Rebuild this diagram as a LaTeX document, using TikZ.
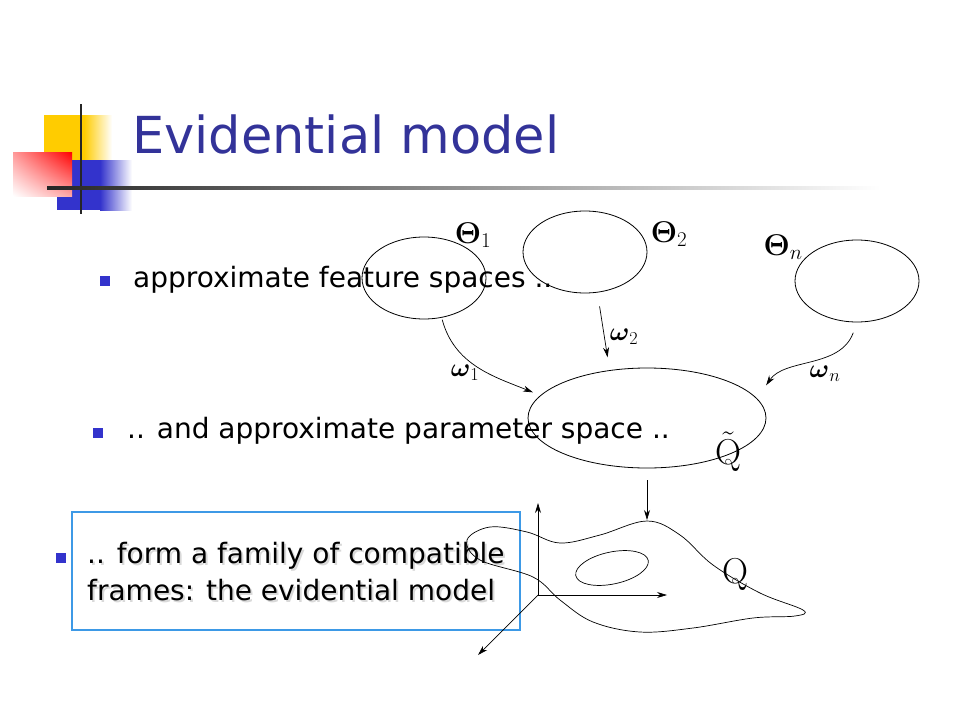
\RequirePackage{fix-cm}
\documentclass[tikz,border=0pt]{standalone}
\usepackage{amsmath}
\usepackage[no-math]{fontspec}
\setmainfont{DejaVu Sans}
\usepackage{tikz}
\usetikzlibrary{arrows.meta,positioning,shapes.geometric,calc,shadings}
\definecolor{titleblue}{HTML}{333399}
\definecolor{bulletblue}{HTML}{3333CC}
\definecolor{boxblue}{HTML}{3D99E6}
\definecolor{logoyellow}{HTML}{FFCC00}

\begin{document}
\begin{tikzpicture}[
    x=1pt, y=-1pt,
    space/.style={ellipse, draw, line width=0.8pt, inner sep=0pt, minimum width=124pt, minimum height=82pt},
    arrow/.style={-{Stealth[length=10pt,width=6pt]}, line width=0.7pt},
    lbl/.style={font=\fontsize{26}{30}\selectfont, inner sep=0pt},
    framelbl/.style={font=\fontsize{30}{34}\selectfont, inner sep=0pt},
    bigsym/.style={font=\fontsize{36}{40}\selectfont, inner sep=0pt},
    bullet/.style={fill=bulletblue, minimum size=10pt, inner sep=0pt},
    item/.style={font=\fontsize{28}{37}\selectfont, anchor=base west, inner sep=0pt}
]
\useasboundingbox (0,0) rectangle (960,720);

% Logo
\fill[logoyellow] (44,115) rectangle (84,160);
\shade[left color=logoyellow, right color=white] (84,115) rectangle (112,160);
\fill[bulletblue] (57,160) rectangle (100,210);
\shade[left color=bulletblue, right color=white] (100,160) rectangle (132,210);
\shade[upper left=red!40!white, upper right=red, lower left=white, lower right=red!35!white] (13,152) rectangle (72,196);
\draw[black!85, line width=2.5pt] (81,104) -- (81,214);
\shade[left color=black!85, right color=white] (47,186.5) rectangle (880,189.5);

% Title
\node[font=\fontsize{51}{60}\selectfont, text=titleblue, anchor=base west, inner sep=0pt] (title) at (132,153) {Evidential model};

% Bullets
\node[bullet] (b1) at (105,281) {};
\node[item] (t1) at (133,287) {approximate feature spaces ..};
\node[bullet] (b2) at (97.5,432.5) {};
\node[item] (t2) at (127,438) {.. and approximate parameter space ..};
\node[bullet] (b3) at (60.5,557.5) {};
\node[item, text=black!15] (t3s) at (89,565) {.. form a family of compatible};
\node[item, text=black!15] (t4s) at (89,602) {frames: the evidential model};
\node[item] (t3) at (87,563) {.. form a family of compatible};
\node[item] (t4) at (87,600) {frames: the evidential model};
\node[draw=boxblue, line width=2pt, minimum width=448pt, minimum height=118pt, inner sep=0pt] (frame) at (295.75,571) {};

% Feature spaces and parameter space
\node[space] (th1) at (424,278) {};
\node[space] (th2) at (585,252) {};
\node[space] (thn) at (857,281) {};
\node[space, minimum width=238pt, minimum height=100pt] (qt) at (647,418) {};

\node[framelbl] (l1) at (473,235) {$\mathbf{\Theta}_1$};
\node[framelbl] (l2) at (669,234) {$\mathbf{\Theta}_2$};
\node[framelbl] (ln) at (783,247) {$\mathbf{\Theta}_n$};
\node[lbl] (w1) at (465,373) {$\boldsymbol{\omega}_1$};
\node[lbl] (w2) at (624,337) {$\boldsymbol{\omega}_2$};
\node[lbl] (wn) at (825,374) {$\boldsymbol{\omega}_n$};
\node[bigsym] (qtl) at (728,452) {$\tilde{\mathrm{Q}}$};

% Refinings
\draw[arrow, shorten <=2pt, shorten >=8pt] (th1.-66) to[out=-75, in=158] (qt.168);
\draw[arrow, shorten <=14pt, shorten >=13pt] (th2.-73) -- (qt.128);
\draw[arrow, shorten <=11pt, shorten >=16pt] (thn.south) to[out=-110, in=56] (qt.10);

% Parameter space Q
\coordinate (peak) at (647,520);
\draw[arrow, shorten <=12pt] (qt.south) -- (peak);
\draw[line width=0.7pt] plot[smooth cycle, tension=0.6] coordinates {
    (467,540) (490,527) (527,532) (560,543) (600,535) (647,521) (680,535)
    (713,565) (760,593) (803,610) (795,616) (753,618) (693,628) (640,632)
    (593,622) (560,600) (533,577) (480,560)};
\draw[line width=0.7pt, rotate around={12:(612,568)}] (612,568) ellipse [x radius=37pt, y radius=16pt];
\node[bigsym] (ql) at (735,575) {$\mathrm{Q}$};

% Axes
\coordinate (org) at (538,595);
\coordinate (yax) at (538,503);
\coordinate (xax) at (667,595);
\coordinate (zax) at (478,655);
\draw[arrow] (org) -- (yax);
\draw[arrow] (org) -- (xax);
\draw[arrow] (org) -- (zax);
\end{tikzpicture}
\end{document}
